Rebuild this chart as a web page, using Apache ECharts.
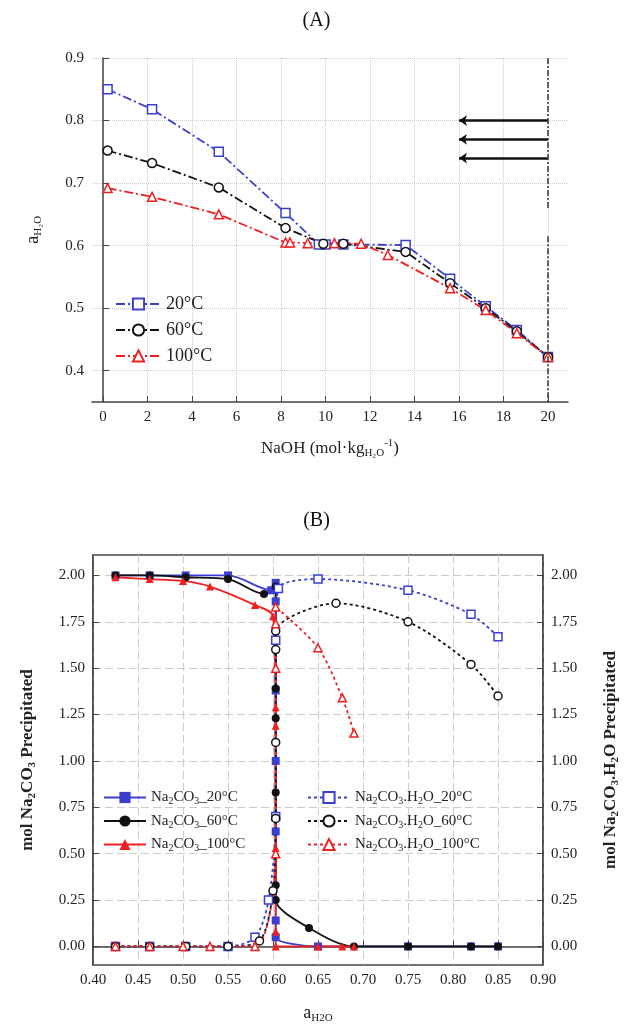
<!DOCTYPE html>
<html>
<head>
<meta charset="utf-8">
<script src="https://cdn.jsdelivr.net/npm/echarts@6/dist/echarts.min.js"></script>
<style>html,body{margin:0;background:#fff}#main{width:633px;height:1036px}</style>
</head>
<body>
<div id="main"></div>
<script>
// (A) water activity vs NaOH molality
var a20 = [[0.2,0.85],[2.2,0.818],[5.2,0.75],[8.2,0.652],[9.7,0.602],[10.0,0.602],[10.8,0.602],[13.6,0.601],[15.6,0.547],[17.2,0.503],[18.6,0.465],[20,0.422]];
var a60 = [[0.2,0.752],[2.2,0.732],[5.2,0.693],[8.2,0.628],[9.9,0.603],[10.8,0.603],[13.6,0.59],[15.6,0.54],[17.2,0.5],[18.6,0.463],[20,0.422]];
var a100 = [[0.2,0.692],[2.2,0.678],[5.2,0.65],[8.2,0.605],[8.4,0.605],[9.2,0.604],[10.4,0.604],[11.6,0.603],[12.8,0.585],[15.6,0.532],[17.2,0.497],[18.6,0.46],[20,0.422]];
var arrowY = [0.8, 0.77, 0.74];
var xTicksA = [0, 2, 4, 6, 8, 10, 12, 14, 16, 18, 20];
var yTicksA = [0.4, 0.5, 0.6, 0.7, 0.8, 0.9];

// (B) precipitated moles vs water activity
var s20 = [[0.425,2],[0.463,2],[0.503,2],[0.55,2],[0.598,1.92],[0.603,1.96],[0.603,1.86],[0.603,1.65],[0.603,1.38],[0.603,1.0],[0.603,0.62],[0.603,0.14],[0.603,0.05],[0.65,0],[0.75,0],[0.82,0],[0.85,0]];
var s60 = [[0.425,2],[0.463,2],[0.503,1.99],[0.55,1.98],[0.59,1.9],[0.603,1.94],[0.603,1.39],[0.603,1.23],[0.603,0.83],[0.603,0.33],[0.603,0.25],[0.64,0.1],[0.69,0],[0.75,0],[0.82,0],[0.85,0]];
var s100 = [[0.425,1.99],[0.463,1.98],[0.5,1.97],[0.53,1.94],[0.58,1.84],[0.6,1.78],[0.603,1.29],[0.603,1.19],[0.603,0.53],[0.603,0.08],[0.603,0],[0.65,0],[0.677,0],[0.69,0]];
var h20 = [[0.425,0],[0.463,0],[0.503,0],[0.55,0],[0.58,0.05],[0.595,0.25],[0.603,0.7],[0.603,1.65],[0.606,1.93],[0.65,1.98],[0.75,1.92],[0.82,1.79],[0.85,1.67]];
var h60 = [[0.425,0],[0.463,0],[0.503,0],[0.55,0],[0.585,0.03],[0.6,0.3],[0.603,0.69],[0.603,1.1],[0.603,1.6],[0.603,1.7],[0.67,1.85],[0.75,1.75],[0.82,1.52],[0.85,1.35]];
var h100 = [[0.425,0],[0.463,0],[0.5,0],[0.53,0],[0.58,0],[0.603,0.5],[0.603,1.5],[0.603,1.74],[0.603,1.83],[0.65,1.61],[0.677,1.34],[0.69,1.15]];
var yTicksB = [0, 0.25, 0.5, 0.75, 1, 1.25, 1.5, 1.75, 2];

var BLUE = '#3a3fd0', BLACK = '#111', RED = '#f02020';
var FONT = 'Liberation Serif';
var dashDot = [9, 3, 2, 3];
var rich = { n: {fontFamily: FONT, fontSize: 15, color: '#222'}, s: {fontFamily: FONT, fontSize: 10, color: '#222', verticalAlign: 'bottom', padding: [8,0,0,0]} };
function chem(t) {
  return t.replace('Na2CO3', '{n|Na}{s|2}{n|CO}{s|3}').replace('.H2O', '{n|.H}{s|2}{n|O}').replace(/_(\d+°C)/, '{n|_$1}');
}

var myChart = echarts.init(document.getElementById('main'));

function axisCommon(ticks, fmt, dash) {
  return {
    axisLine: {show: true, lineStyle: {color: '#444', width: 1.5}},
    axisTick: {show: true, inside: true, length: 6, lineStyle: {color: '#444'}, customValues: ticks},
    splitLine: {show: true, lineStyle: {color: '#ccc', type: dash}},
    axisLabel: {fontFamily: FONT, fontSize: 15, color: '#222', customValues: ticks, formatter: fmt}
  };
}

function lineA(name, data, color, sym) {
  return {name: name, type: 'line', xAxisIndex: 0, yAxisIndex: 0, data: data, symbol: sym, symbolSize: 9,
    itemStyle: {color: '#fff', borderColor: color, borderWidth: 1.5},
    lineStyle: {color: color, width: 1.8, type: dashDot}};
}
function lineB(name, data, color, sym, hollow, yIdx) {
  return {name: name, type: 'line', xAxisIndex: 1, yAxisIndex: yIdx, data: data, symbol: sym, symbolSize: 8, smooth: 0.3,
    itemStyle: hollow ? {color: '#fff', borderColor: color, borderWidth: 1.5} : {color: color},
    lineStyle: {color: color, width: 1.8, type: hollow ? [3, 3] : 'solid'}};
}

var arrowLines = arrowY.map(function (y) { return [{coord: [20, y]}, {coord: [16, y]}]; });
var f1 = function (v) { return v.toFixed(1); };
var f2 = function (v) { return v.toFixed(2); };
var boldRich = {b: {fontFamily: FONT, fontSize: 17, fontWeight: 'bold', color: '#222'}, bs: {fontFamily: FONT, fontSize: 11, fontWeight: 'bold', color: '#222', padding: [9,0,0,0]}};

var option = {
  animation: false,
  backgroundColor: '#fff',
  title: [
    {text: '(A)', left: 'center', top: 6, textStyle: {fontFamily: FONT, fontSize: 20, fontWeight: 'normal', color: '#111'}},
    {text: '(B)', left: 'center', top: 506, textStyle: {fontFamily: FONT, fontSize: 20, fontWeight: 'normal', color: '#111'}}
  ],
  grid: [
    {left: 92, right: 65, top: 58, height: 344},
    {left: 93, right: 90, top: 555, height: 410, show: true, borderColor: '#444', borderWidth: 1.5}
  ],
  legend: [
    {orient: 'vertical', left: 110, top: 290, itemGap: 8, itemWidth: 45, data: ['20°C', '60°C', '100°C'],
      textStyle: {fontFamily: FONT, fontSize: 18, color: '#222'}},
    {orient: 'vertical', left: 98, top: 785, itemGap: 7, itemWidth: 42, data: ['Na2CO3_20°C', 'Na2CO3_60°C', 'Na2CO3_100°C'],
      formatter: chem, textStyle: {rich: rich}},
    {orient: 'vertical', left: 302, top: 785, itemGap: 7, itemWidth: 42, data: ['Na2CO3.H2O_20°C', 'Na2CO3.H2O_60°C', 'Na2CO3.H2O_100°C'],
      formatter: chem, textStyle: {rich: rich}}
  ],
  xAxis: [
    Object.assign(axisCommon(xTicksA, null, 'dotted'), {gridIndex: 0, type: 'value', min: -0.5, max: 20.9,
      name: '{n|NaOH (mol·kg}{s|H₂O}{p|-1}{n|)}', nameLocation: 'middle', nameGap: 36,
      nameTextStyle: {rich: {n: {fontFamily: FONT, fontSize: 17, color: '#222'}, s: {fontFamily: FONT, fontSize: 11, color: '#222', padding: [10,0,0,0]}, p: {fontFamily: FONT, fontSize: 11, color: '#222', padding: [0,0,10,0]}}}}),
    Object.assign(axisCommon(null, f2, [8, 4]), {gridIndex: 1, type: 'value', min: 0.4, max: 0.9, interval: 0.05,
      axisTick: {show: true, inside: true, length: 6, lineStyle: {color: '#444'}},
      axisLabel: {fontFamily: FONT, fontSize: 15, color: '#222', formatter: f2},
      name: '{n|a}{s|H2O}', nameLocation: 'middle', nameGap: 38,
      nameTextStyle: {rich: {n: {fontFamily: FONT, fontSize: 18, color: '#222'}, s: {fontFamily: FONT, fontSize: 11, color: '#222', padding: [10,0,0,0]}}}})
  ],
  yAxis: [
    Object.assign(axisCommon(yTicksA, f1, 'dotted'), {gridIndex: 0, type: 'value', min: 0.35, max: 0.9,
      name: '{n|a}{s|H₂O}', nameLocation: 'middle', nameGap: 48,
      nameTextStyle: {rich: {n: {fontFamily: FONT, fontSize: 19, color: '#222'}, s: {fontFamily: FONT, fontSize: 11, color: '#222', padding: [10,0,0,0]}}}}),
    Object.assign(axisCommon(yTicksB, f2, [8, 4]), {gridIndex: 1, type: 'value', min: -0.1, max: 2.11,
      name: '{b|mol Na}{bs|2}{b|CO}{bs|3}{b| Precipitated}', nameLocation: 'middle', nameGap: 55,
      nameTextStyle: {rich: boldRich}}),
    Object.assign(axisCommon(yTicksB, f2, [8, 4]), {gridIndex: 1, type: 'value', min: -0.1, max: 2.11, position: 'right',
      splitLine: {show: false},
      name: '{b|mol Na}{bs|2}{b|CO}{bs|3}{b|.H}{bs|2}{b|O Precipitated}', nameLocation: 'middle', nameGap: 58, nameRotate: 90,
      nameTextStyle: {rich: boldRich}})
  ],
  series: [
    Object.assign(lineA('20°C', a20, BLUE, 'rect'), {
      markLine: {silent: true, symbol: ['none', 'arrow'], symbolSize: [8, 8], label: {show: false},
        lineStyle: {color: '#111', width: 2.5, type: 'solid'}, data: arrowLines}
    }),
    Object.assign(lineA('60°C', a60, BLACK, 'circle'), {
      markLine: {silent: true, symbol: 'none', lineStyle: {color: '#333', width: 1.5, type: [6, 2, 2, 2]},
        label: {show: false},
        data: [[{coord: [20, 0.9]}, {coord: [20, 0.66]}], [{coord: [20, 0.615]}, {coord: [20, 0.35]}]]}
    }),
    Object.assign(lineA('100°C', a100, RED, 'triangle'), {
      markPoint: {silent: true, symbol: 'none', data: [{coord: [20, 0.638], label: {show: true, position: 'inside',
        formatter: '{n|C}{s|0}', rich: {n: {fontFamily: FONT, fontSize: 19, color: '#222'}, s: {fontFamily: FONT, fontSize: 12, color: '#222', padding: [10,0,0,0]}}}}]}
    }),
    lineB('Na2CO3_20°C', s20, BLUE, 'rect', false, 1),
    lineB('Na2CO3_60°C', s60, BLACK, 'circle', false, 1),
    lineB('Na2CO3_100°C', s100, RED, 'triangle', false, 1),
    lineB('Na2CO3.H2O_20°C', h20, BLUE, 'rect', true, 2),
    lineB('Na2CO3.H2O_60°C', h60, BLACK, 'circle', true, 2),
    lineB('Na2CO3.H2O_100°C', h100, RED, 'triangle', true, 2)
  ]
};

myChart.setOption(option);
</script>
</body>
</html>
